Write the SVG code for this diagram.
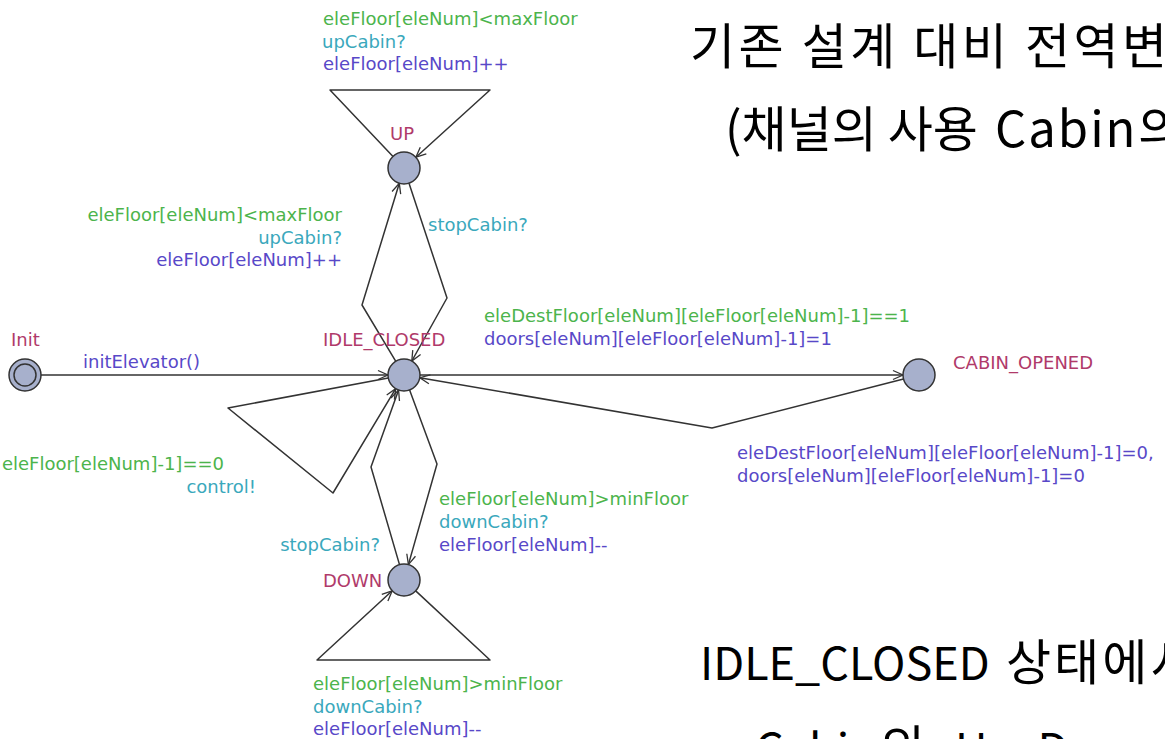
<svg xmlns="http://www.w3.org/2000/svg" width="1165" height="739" viewBox="0 0 1165 739">
<defs>
<marker id="arr" viewBox="-12 -6 14 12" refX="0" refY="0" markerWidth="14" markerHeight="12" markerUnits="userSpaceOnUse" orient="auto">
<path d="M-10,-4.5 L0,0 L-10,4.5" fill="none" stroke="#333" stroke-width="1.3"/>
</marker>
<style>
.e{fill:none;stroke:#333;stroke-width:1.5;stroke-linejoin:round;marker-end:url(#arr)}
.n{fill:#a7b0cc;stroke:#333;stroke-width:1.5}
.t{font-family:"DejaVu Sans",sans-serif;font-size:18px}
.nm{fill:#b03a6a}
.g{fill:#4cb44c}
.s{fill:#3aa8bc}
.a{fill:#5848c8}
.k{font-family:"Noto Sans CJK KR",sans-serif;font-size:49px;fill:#000}
</style>
</defs>
<rect width="1165" height="739" fill="#fff"/>
<g id="connectors">
<path class="e" d="M41,375 L388,375"/>
<path class="e" d="M395.8,361.3 L362,305 L399.3,183.3"/>
<path class="e" d="M409,183.2 L447,298 L411.8,361"/>
<path class="e" d="M393,156.4 L330,90 L490,90 L415.9,157.2"/>
<path class="e" d="M420,375 L903,375"/>
<path class="e" d="M903.5,379 L712,428 L419.8,377.7"/>
<path class="e" d="M388.3,377.9 L228,408 L333,493 L395.7,388.7"/>
<path class="e" d="M409.6,390 L437,464 L408.4,564.6"/>
<path class="e" d="M399.5,564.6 L371,467 L398.6,390.1"/>
<path class="e" d="M415.7,590.9 L490,660 L317,660 L392.2,590.8"/>
</g>
<g id="edge-labels" class="t">
<text class="g" x="323" y="25">eleFloor[eleNum]&lt;maxFloor</text>
<text class="s" x="322" y="47.5">upCabin?</text>
<text class="a" x="323" y="70">eleFloor[eleNum]++</text>
<text class="g" x="342" y="221" text-anchor="end">eleFloor[eleNum]&lt;maxFloor</text>
<text class="s" x="342" y="243.5" text-anchor="end">upCabin?</text>
<text class="a" x="342" y="266" text-anchor="end">eleFloor[eleNum]++</text>
<text class="s" x="428" y="231">stopCabin?</text>
<text class="a" x="83" y="368">initElevator()</text>
<text class="g" x="484" y="322">eleDestFloor[eleNum][eleFloor[eleNum]-1]==1</text>
<text class="a" x="484" y="345">doors[eleNum][eleFloor[eleNum]-1]=1</text>
<text class="a" x="737" y="459">eleDestFloor[eleNum][eleFloor[eleNum]-1]=0,</text>
<text class="a" x="737" y="482">doors[eleNum][eleFloor[eleNum]-1]=0</text>
<text class="g" x="224" y="470" text-anchor="end">eleFloor[eleNum]-1]==0</text>
<text class="s" x="256" y="493" text-anchor="end">control!</text>
<text class="g" x="439" y="505">eleFloor[eleNum]&gt;minFloor</text>
<text class="s" x="439" y="528">downCabin?</text>
<text class="a" x="439" y="551">eleFloor[eleNum]--</text>
<text class="s" x="380" y="551" text-anchor="end">stopCabin?</text>
<text class="g" x="313" y="690">eleFloor[eleNum]&gt;minFloor</text>
<text class="s" x="313" y="712.5">downCabin?</text>
<text class="a" x="313" y="735">eleFloor[eleNum]--</text>
</g>
<g id="node-init">
<circle class="n" cx="25" cy="375" r="16"/>
<circle class="n" cx="25" cy="375" r="11"/>
<text class="t nm" x="11" y="346">Init</text>
</g>
<g id="node-idle">
<circle class="n" cx="404" cy="375" r="16"/>
<text class="t nm" x="323" y="346">IDLE_CLOSED</text>
</g>
<g id="node-up">
<circle class="n" cx="404" cy="168" r="16"/>
<text class="t nm" x="390" y="140">UP</text>
</g>
<g id="node-down">
<circle class="n" cx="404" cy="580" r="16"/>
<text class="t nm" x="323" y="587">DOWN</text>
</g>
<g id="node-cabin">
<circle class="n" cx="919" cy="375" r="16"/>
<text class="t nm" x="953" y="369">CABIN_OPENED</text>
</g>
<g id="notes">
<text class="k" x="690" y="64" letter-spacing="3.5">기존 설계 대비 전역변</text>
<text class="k" x="725" y="147"><tspan>(채널의 사용</tspan><tspan x="995" letter-spacing="2">Cabin</tspan><tspan x="1138">의</tspan></text>
<text class="k" x="700" y="680"><tspan font-size="45">IDLE_CLOSED</tspan><tspan x="1006" letter-spacing="3">상태에서</tspan></text>
<text class="k" x="755" y="766"><tspan font-size="45">Cabin</tspan><tspan x="880">의</tspan><tspan x="955" font-size="45">Up, Down</tspan></text>
</g>
</svg>
